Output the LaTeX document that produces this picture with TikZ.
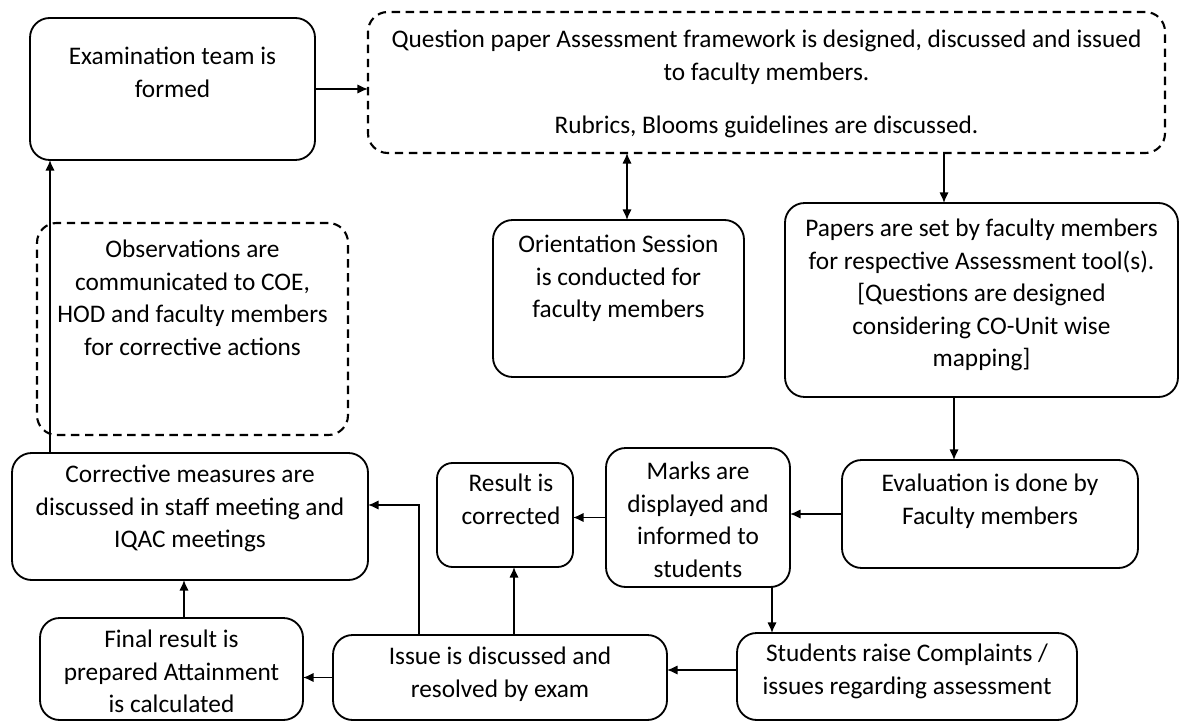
\documentclass[tikz,border=0pt]{standalone}
\usepackage{fontspec}
\setmainfont{Carlito}
\usetikzlibrary{arrows.meta,positioning}
\newlength{\pxu}\setlength{\pxu}{0.025cm}

\begin{document}
\begin{tikzpicture}[x=0.025cm, y=-0.025cm, >={Latex[length=7.5pt,width=6.5pt]},
                    box node/.style={draw, line width=1.3pt, rounded corners=14pt, inner sep=0pt, outer sep=0pt},
                    dash node/.style={box node, line width=1.5pt, dash pattern=on 6pt off 4pt},
                    txt/.style={font=\fontsize{18}{23.1}\selectfont, align=center, inner sep=0pt, anchor=north},
                    link/.style={->, line width=0.9pt}]

      \useasboundingbox (0,0) rectangle (1186,722);

      \node[box node, minimum width=285\pxu, minimum height=142\pxu,
            label={[txt, yshift=-29\pxu]north:{Examination team is\\formed}}] (1) at (172.5,89) {};
      \node[dash node, minimum width=797\pxu, minimum height=141\pxu,
            label={[txt, yshift=-18\pxu]north:{Question paper Assessment framework is designed, discussed and issued\\to faculty members.\\[15pt]Rubrics, Blooms guidelines are discussed.}}] (2) at (766.5,82.5) {};
      \node[dash node, minimum width=311\pxu, minimum height=212\pxu,
            label={[txt, yshift=-17\pxu]north:{Observations are\\communicated to COE,\\HOD and faculty members\\for corrective actions}}] (3) at (192.5,329) {};
      \node[box node, minimum width=251\pxu, minimum height=157\pxu,
            label={[txt, yshift=-15\pxu]north:{Orientation Session\\is conducted for\\faculty members}}] (4) at (618.5,298.5) {};
      \node[box node, minimum width=393\pxu, minimum height=194\pxu,
            label={[txt, yshift=-16\pxu]north:{Papers are set by faculty members\\for respective Assessment tool(s).\\{}[Questions are designed\\considering CO-Unit wise\\mapping]}}] (5) at (981.5,300) {};
      \node[box node, minimum width=296\pxu, minimum height=108\pxu,
            label={[txt, yshift=-14\pxu]north:{Evaluation is done by\\Faculty members}}] (6) at (990,514) {};
      \node[box node, minimum width=184\pxu, minimum height=139\pxu,
            label={[txt, yshift=-14\pxu]north:{Marks are\\displayed and\\informed to\\students}}] (7) at (698,517.5) {};
      \node[box node, rounded corners=11pt, minimum width=136\pxu, minimum height=104\pxu,
            label={[txt, yshift=-11\pxu, xshift=6\pxu]north:{Result is\\corrected}}] (8) at (505,515) {};
      \node[box node, minimum width=356\pxu, minimum height=127\pxu,
            label={[txt, yshift=-12\pxu]north:{Corrective measures are\\discussed in staff meeting and\\IQAC meetings}}] (9) at (190,516.5) {};
      \node[box node, minimum width=263\pxu, minimum height=102\pxu,
            label={[txt, yshift=-12\pxu]north:{Final result is\\prepared Attainment\\is calculated}}] (10) at (171.5,669) {};
      \node[box node, minimum width=334\pxu, minimum height=85\pxu,
            label={[txt, yshift=-12\pxu]north:{Issue is discussed and\\resolved by exam}}] (11) at (500,677.5) {};
      \node[box node, minimum width=340\pxu, minimum height=87\pxu,
            label={[txt, yshift=-11\pxu]north:{Students raise Complaints /\\issues regarding assessment}}] (12) at (907,676.5) {};

      \coordinate (c1) at (50,0);
      \coordinate (c2) at (627,0);
      \coordinate (c3) at (944,0);
      \coordinate (c4) at (954,0);
      \coordinate (c5) at (772,0);
      \coordinate (c6) at (514,0);
      \coordinate (c7) at (419,0);
      \coordinate (c8) at (184,0);
      \coordinate (r1) at (0,670);
      \coordinate (r2) at (0,505);

      \draw[link] (1.east) -- (1.east -| 2.west);
      \draw[link] (9.north -| c1) -- (1.south -| c1);
      \draw[link, <->] (4.north -| c2) -- (2.south -| c2);
      \draw[link] (2.south -| c3) -- (5.north -| c3);
      \draw[link] (5.south -| c4) -- (6.north -| c4);
      \draw[link] (6.west) -- (6.west -| 7.east);
      \draw[link] (7.west) -- (7.west -| 8.east);
      \draw[link] (7.south -| c5) -- (12.north -| c5);
      \draw[link] (12.west |- r1) -- (11.east |- r1);
      \draw[link] (11.west) -- (11.west -| 10.east);
      \draw[link] (11.north -| c6) -- (8.south -| c6);
      \draw[link] (11.north -| c7) |- (9.east |- r2);
      \draw[link] (10.north -| c8) -- (9.south -| c8);

\end{tikzpicture}
\end{document}
